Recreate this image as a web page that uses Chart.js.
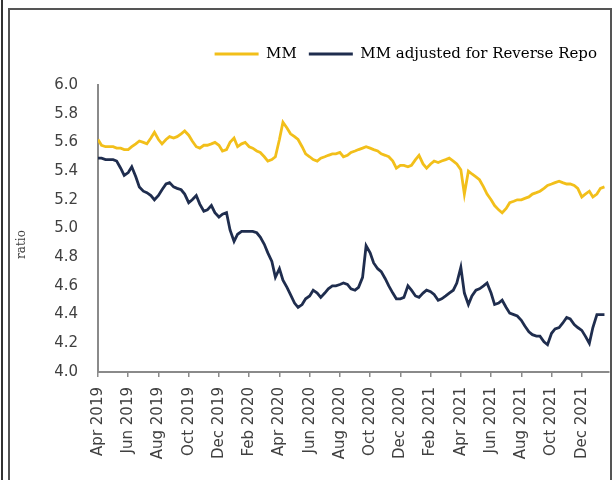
<!DOCTYPE html>
<html><head><meta charset="utf-8">
<script src="https://cdn.jsdelivr.net/npm/chart.js@4.4.1/dist/chart.umd.min.js"></script>
<style>
html,body{margin:0;padding:0;background:#fff;}
#wrap{position:relative;width:614px;height:480px;overflow:hidden;background:#fff;}
#c{position:absolute;left:0;top:0;}
.b1{position:absolute;left:1px;top:0;width:2px;height:480px;background:#333;}
.b2{position:absolute;left:8px;top:8px;width:600px;height:480px;border:2px solid #555;border-bottom:none;}
</style></head>
<body><div id="wrap"><canvas id="c" width="614" height="480"></canvas><div class="b1"></div><div class="b2"></div></div>
<script>
const seriesNames = ['MM', 'MM adjusted for Reverse Repo'];
const tickLabels = ['Apr 2019','Jun 2019','Aug 2019','Oct 2019','Dec 2019','Feb 2020','Apr 2020','Jun 2020','Aug 2020','Oct 2020','Dec 2020','Feb 2021','Apr 2021','Jun 2021','Aug 2021','Oct 2021','Dec 2021'];
const weekDays = [1, 8, 16, 23];
const mmValues = [
  5.62,5.58,5.57,5.57, 5.57,5.56,5.56,5.55, 5.55,5.57,5.59,5.61, 5.60,5.59,5.63,5.67,
  5.62,5.59,5.62,5.64, 5.63,5.64,5.66,5.68, 5.65,5.61,5.57,5.56, 5.58,5.58,5.59,5.60,
  5.58,5.54,5.55,5.60, 5.63,5.57,5.59,5.60, 5.57,5.56,5.54,5.53, 5.50,5.47,5.48,5.50,
  5.62,5.74,5.70,5.66, 5.64,5.62,5.57,5.52, 5.50,5.48,5.47,5.49, 5.50,5.51,5.52,5.52,
  5.53,5.50,5.51,5.53, 5.54,5.55,5.56,5.57, 5.56,5.55,5.54,5.52, 5.51,5.50,5.47,5.42,
  5.44,5.44,5.43,5.44, 5.48,5.51,5.45,5.42, 5.45,5.47,5.46,5.47, 5.48,5.49,5.47,5.45,
  5.41,5.24,5.40,5.38, 5.36,5.34,5.29,5.24, 5.20,5.16,5.13,5.11, 5.14,5.18,5.19,5.20,
  5.20,5.21,5.22,5.24, 5.25,5.26,5.28,5.30, 5.31,5.32,5.33,5.32, 5.31,5.31,5.30,5.28,
  5.22,5.24,5.26,5.22, 5.24,5.28,5.29
];
const mmAdjValues = [
  5.49,5.49,5.48,5.48, 5.48,5.47,5.42,5.37, 5.39,5.43,5.36,5.29, 5.26,5.25,5.23,5.20,
  5.23,5.27,5.31,5.32, 5.29,5.28,5.27,5.24, 5.18,5.20,5.23,5.17, 5.12,5.13,5.16,5.11,
  5.08,5.10,5.11,4.99, 4.91,4.96,4.98,4.98, 4.98,4.98,4.97,4.94, 4.89,4.83,4.77,4.66,
  4.72,4.64,4.59,4.54, 4.48,4.45,4.47,4.51, 4.53,4.57,4.55,4.52, 4.55,4.58,4.60,4.60,
  4.61,4.62,4.61,4.58, 4.57,4.59,4.66,4.88, 4.83,4.76,4.72,4.70, 4.65,4.60,4.55,4.51,
  4.51,4.52,4.60,4.57, 4.53,4.52,4.55,4.57, 4.56,4.54,4.50,4.51, 4.53,4.55,4.57,4.62,
  4.73,4.55,4.47,4.53, 4.57,4.58,4.60,4.62, 4.55,4.47,4.48,4.50, 4.45,4.41,4.40,4.39,
  4.36,4.32,4.28,4.26, 4.25,4.25,4.21,4.19, 4.27,4.30,4.31,4.34, 4.38,4.37,4.33,4.31,
  4.29,4.25,4.20,4.31, 4.40,4.40,4.40
];
// weekly-ish observation dates, starting April 2019
const dates = mmValues.map((_, i) => {
  const mi = Math.floor(i / 4);
  const y = 2019 + Math.floor((3 + mi) / 12);
  const mo = (3 + mi) % 12 + 1;
  return y + '-' + String(mo).padStart(2, '0') + '-' + String(weekDays[i % 4]).padStart(2, '0');
});
function monthPos(d) {
  const p = d.split('-').map(Number);
  return (p[0] - 2019) * 12 + (p[1] - 4) + (p[2] - 1) / 30;
}
const colors = ['#F2BF1A', '#1F2D4E'];

const axisTitle = {
  id: 'axisTitle',
  afterDraw(chart) {
    const {ctx, chartArea} = chart;
    ctx.save();
    ctx.translate(chartArea.left - 76, (chartArea.top + chartArea.bottom) / 2 + 16);
    ctx.rotate(-Math.PI / 2);
    ctx.font = '12px "DejaVu Serif"';
    ctx.fillStyle = '#404040';
    ctx.textAlign = 'center';
    ctx.textBaseline = 'middle';
    ctx.fillText('ratio', 0, 0);
    ctx.restore();
  }
};
const legendGap = {
  id: 'legendGap',
  beforeInit(chart) {
    const lg = chart.legend;
    if (!lg) return;
    const orig = lg.fit;
    lg.fit = function () { orig.call(this); this.height += 13.5; };
  }
};

new Chart(document.getElementById('c'), {
  type: 'line',
  data: {
    datasets: [mmValues, mmAdjValues].map((vals, k) => ({
      label: seriesNames[k],
      data: vals.map((v, i) => ({x: monthPos(dates[i]), y: v})),
      borderColor: colors[k],
      backgroundColor: colors[k],
      borderWidth: 2.8,
      pointRadius: 0,
      tension: 0,
      fill: false
    }))
  },
  options: {
    responsive: false,
    animation: false,
    layout: {padding: {top: 34.5, right: 5, left: 0, bottom: 0}},
    plugins: {
      tooltip: {enabled: false},
      legend: {
        position: 'top',
        align: 'end',
        labels: {
          boxWidth: 44,
          boxHeight: 3,
          padding: 12,
          color: '#404040',
          font: {family: 'DejaVu Serif', size: 15},
          generateLabels(chart) {
            return chart.data.datasets.map((ds, i) => ({
              text: ds.label, fillStyle: ds.borderColor, strokeStyle: ds.borderColor,
              lineWidth: 0, hidden: false, datasetIndex: i
            }));
          }
        }
      }
    },
    scales: {
      x: {
        type: 'linear',
        min: 0,
        max: 33.8,
        afterBuildTicks(scale) { scale.ticks = tickLabels.map((_, i) => ({value: i * 2})); },
        afterFit(scale) { scale.height = 108; },
        grid: {display: true, drawOnChartArea: false, drawTicks: true, tickLength: 5, color: '#8a8a8a', lineWidth: 1.5},
        border: {display: true, color: '#8a8a8a', width: 2},
        ticks: {
          autoSkip: false, maxRotation: 90, minRotation: 90, padding: 10,
          color: '#404040', font: {family: 'DejaVu Sans', size: 15},
          callback: (v, i) => tickLabels[i]
        }
      },
      y: {
        min: 4.0,
        max: 6.0,
        afterFit(scale) { scale.width = 98; },
        grid: {display: false, drawTicks: false},
        border: {display: true, color: '#8a8a8a', width: 2},
        ticks: {
          stepSize: 0.2, padding: 20,
          color: '#404040', font: {family: 'DejaVu Sans', size: 15},
          callback: v => Number(v).toFixed(1)
        }
      }
    }
  },
  plugins: [axisTitle, legendGap]
});
</script>
</body></html>
